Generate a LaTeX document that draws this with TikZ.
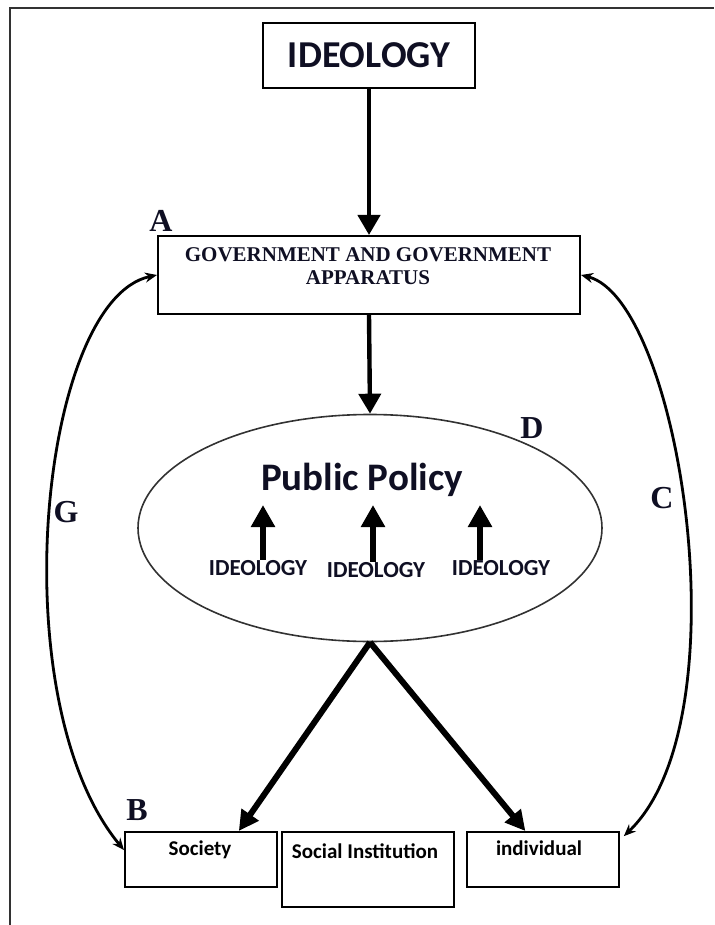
\documentclass[tikz,border=0pt]{standalone}
\usepackage{fontspec}
\setmainfont{Liberation Serif}
\newfontfamily\calib{Carlito}
\usetikzlibrary{arrows.meta,shapes.geometric}
\definecolor{inkdark}{RGB}{15,15,35}
\definecolor{framegray}{RGB}{50,50,50}
\tikzset{
  box/.style={draw, line width=1pt, inner sep=0pt},
  letter/.style={font=\bfseries\fontsize{16}{18}\selectfont, text=inkdark},
  sidetext/.style={font=\calib\bfseries\fontsize{10.5}{12}\selectfont, anchor=base, inner sep=0pt},
  smallideo/.style={font=\calib\bfseries\fontsize{11.5}{13}\selectfont, text=inkdark, anchor=base, inner sep=0pt},
  mainarrow/.style={line width=2.2pt, -{Triangle[length=10pt,width=11pt]}},
  fatarrow/.style={line width=3pt, -{Triangle[length=10pt,width=10pt]}},
  uparrow/.style={line width=3pt, -{Triangle[length=11pt,width=11.5pt]}},
  loopline/.style={line width=1.4pt, {Stealth[length=6pt,width=5pt]}-{Stealth[length=6pt,width=5pt]}}
}
\begin{document}
\begin{tikzpicture}[x=0.5pt, y=-0.5pt]
      \useasboundingbox (0,0) rectangle (714,925);
      % frame
      \draw[framegray, line width=1pt] (10,925) -- (10,8) -- (714,8);
      % boxes
      \node[box, minimum width=106pt, minimum height=32.5pt,
        font=\calib\bfseries\fontsize{19}{21}\selectfont, text=inkdark] (ideo) at (369,55.5) {IDEOLOGY};
      \node[box, minimum width=211pt, minimum height=39pt] (gov) at (369,275) {};
      \node[align=center, inner sep=0pt, font=\bfseries\fontsize{10.5}{11.5}\selectfont, text=inkdark]
        (govtext) at (368,266) {GOVERNMENT AND GOVERNMENT\\APPARATUS};
      \node[ellipse, draw=framegray, line width=0.8pt, minimum width=232pt, minimum height=113.5pt,
        inner sep=0pt] (policy) at (370,528) {};
      \node[box, minimum width=76pt, minimum height=27.5pt] (society) at (201,859.5) {};
      \node[box, minimum width=86pt, minimum height=37.5pt] (inst) at (368,869.5) {};
      \node[box, minimum width=76pt, minimum height=27.5pt] (indiv) at (542.5,859.5) {};
      % texts
      \node[font=\calib\bfseries\fontsize{19.5}{21}\selectfont, text=inkdark, anchor=base,
        inner sep=0pt] (pptext) at (362,490) {Public Policy};
      \node[smallideo] (i1) at (258,575) {IDEOLOGY};
      \node[smallideo] (i2) at (376,577) {IDEOLOGY};
      \node[smallideo] (i3) at (501,575) {IDEOLOGY};
      \node[sidetext] (soctext) at (200,855) {Society};
      \node[sidetext] (insttext) at (365,858) {Social Institution};
      \node[sidetext] (indtext) at (539,855) {individual};
      % letters
      \node[letter] (la) at (161,221) {A};
      \node[letter] (lb) at (137,810) {B};
      \node[letter] (lc) at (662,498) {C};
      \node[letter] (ld) at (532,428) {D};
      \node[letter] (lg) at (66,512) {G};
      % arrows
      \draw[mainarrow] (ideo.south) -- (gov.north);
      \draw[mainarrow] (gov.south) -- (policy.north);
      \draw[fatarrow] (policy.south) -- (society.37);
      \draw[fatarrow] (policy.south) -- (indiv.121);
      \coordinate (t1) at (263,505);
      \coordinate (t2) at (373,505);
      \coordinate (t3) at (480,505);
      \draw[uparrow] (t1 |- i1.north) -- (t1);
      \draw[uparrow] (t2 |- i2.north) -- (t2);
      \draw[uparrow] (t3 |- i3.north) -- (t3);
      \draw[loopline] (gov.west) .. controls (40,300) and (0,700) .. (society.173);
      \draw[loopline, shorten >=3pt] (gov.east) .. controls (680,300) and (745,720) .. (indiv.14);
\end{tikzpicture}
\end{document}
